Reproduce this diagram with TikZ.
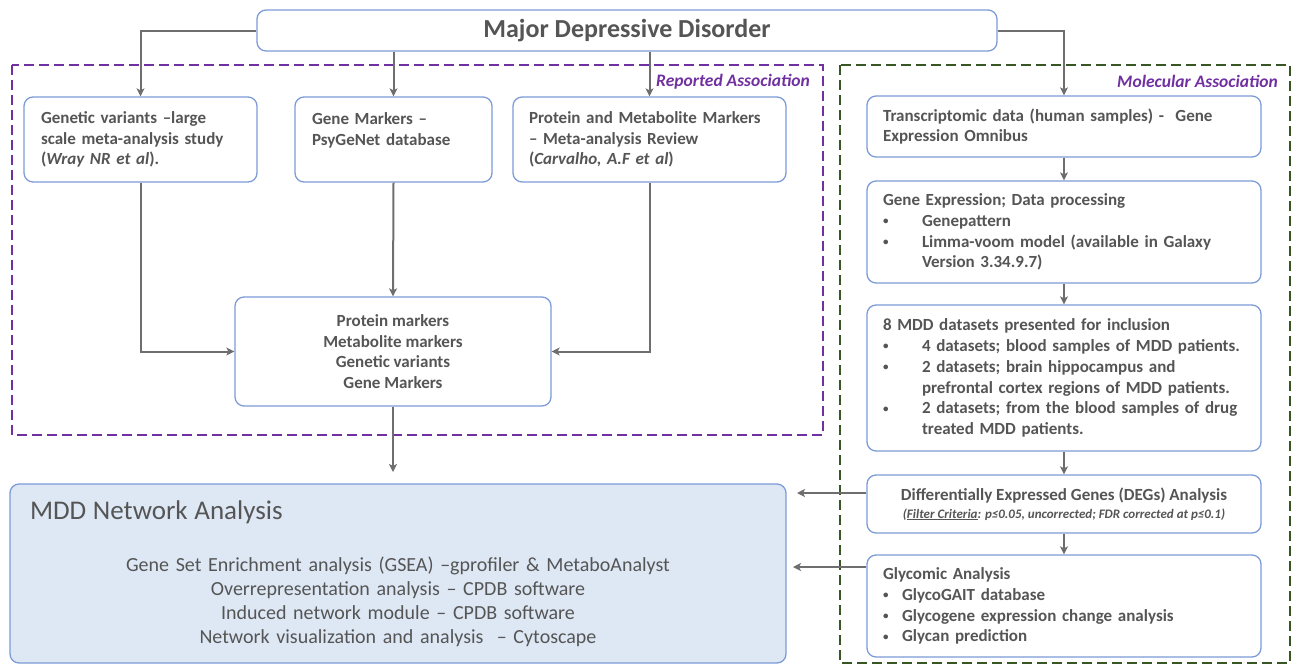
\documentclass[tikz,border=0pt]{standalone}
\usepackage{fontspec}
\setmainfont{Carlito}
\usetikzlibrary{arrows.meta}
\definecolor{txtgray}{RGB}{85,85,85}
\definecolor{boxblue}{RGB}{125,155,215}
\definecolor{arrgray}{RGB}{110,110,110}
\definecolor{repviolet}{RGB}{112,48,160}
\definecolor{molgreen}{RGB}{55,86,35}
\definecolor{netfill}{RGB}{222,232,245}
\tikzset{
  box/.style={draw=boxblue, line width=1.3pt, rounded corners=9pt, fill=white, text=txtgray,
    align=left, inner ysep=2pt, font=\bfseries\fontsize{17}{20.8}\selectfont},
  arr/.style={draw=arrgray, line width=2pt, -{Stealth[length=8pt,width=8pt,inset=2pt]}},
  frame/.style={line width=2.5pt, dash pattern=on 10pt off 5pt},
  tag/.style={font=\bfseries\itshape\fontsize{17.5}{20}\selectfont, text=repviolet, anchor=east, inner sep=0pt},
}
\newcommand{\bul}[1]{\makebox[#1][l]{\raisebox{1.5pt}{\fontsize{11}{11}\selectfont\textbullet}}}

\begin{document}
\begin{tikzpicture}[x=1pt, y=-1pt]
\useasboundingbox (0,0) rectangle (1296,667);

\draw[frame, repviolet] (12,65) rectangle (823,435);
\draw[frame, molgreen] (840,65) rectangle (1290,663);
\node[tag] (RA) at (810,82) {Reported Association};
\node[tag] (MA) at (1278,81) {Molecular Association};

\node[box, align=center, minimum width=740pt, minimum height=41pt,
  font=\bfseries\fontsize{26}{30}\selectfont] (MDD) at (627,30.5) {Major Depressive Disorder};

\node[box, text width=199pt, inner xsep=17pt, minimum height=85pt] (GV) at (140.5,139.5)
  {Genetic variants –large\\scale meta-analysis study\\(\textit{Wray NR et al}).};
\node[box, text width=163pt, inner xsep=17pt, minimum height=85pt] (GM) at (393.5,139.5)
  {Gene Markers –\\ PsyGeNet database\\\mbox{}};
\node[box, text width=241pt, inner xsep=16pt, minimum height=85pt] (PM) at (649.5,139.5)
  {Protein and Metabolite Markers\\– Meta-analysis Review\\(\textit{Carvalho, A.F et al})};
\node[box, align=center, minimum width=316pt, minimum height=109pt] (ALL) at (393,351.5)
  {Protein markers\\Metabolite markers\\Genetic variants\\Gene Markers};

\node[box, text width=362pt, inner xsep=16pt, minimum height=61pt] (TD) at (1064,126.5)
  {Transcriptomic data (human samples) -\ \ Gene\\Expression Omnibus};
\node[box, text width=362pt, inner xsep=16pt, minimum height=102pt] (GE) at (1064,232)
  {Gene Expression; Data processing\\
   \bul{39pt}Genepattern\\
   \bul{39pt}Limma-voom model (available in Galaxy\\
   \hspace*{39pt}Version 3.34.9.7)};
\node[box, text width=362pt, inner xsep=16pt, minimum height=146pt] (DS) at (1064,378)
  {8 MDD datasets presented for inclusion\\
   \bul{39pt}4 datasets; blood samples of MDD patients.\\
   \bul{39pt}2 datasets; brain hippocampus and\\
   \hspace*{39pt}prefrontal cortex regions of MDD patients.\\
   \bul{39pt}2 datasets; from the blood samples of drug\\
   \hspace*{39pt}treated MDD patients.};
\node[box, align=center, minimum width=394pt, minimum height=58pt] (DEG) at (1064,504)
  {Differentially Expressed Genes (DEGs) Analysis\\[-3pt]
   {\fontsize{13}{15}\selectfont\itshape (\underline{Filter Criteria}: p≤0.05, uncorrected; FDR corrected at p≤0.1)}};
\node[box, text width=362pt, inner xsep=16pt, minimum height=102pt] (GA) at (1064,606)
  {Glycomic Analysis\\
   \bul{19pt}GlycoGAIT database\\
   \bul{19pt}Glycogene expression change analysis\\
   \bul{19pt}Glycan prediction};

\node[box, fill=netfill, text width=736pt, inner xsep=20pt, minimum height=179pt, align=center,
  font=\fontsize{20}{24}\selectfont] (NA) at (398,573.5)
  {\makebox[\linewidth][l]{\fontsize{27}{30}\selectfont MDD Network Analysis}\\[28pt]
   Gene Set Enrichment analysis (GSEA) –gprofiler \& MetaboAnalyst\\
   Overrepresentation analysis – CPDB software\\
   Induced network module – CPDB software\\
   Network visualization and analysis\ \ – Cytoscape};

\coordinate (NAin) at (393,472);
\coordinate (DEGin) at (797,493);
\coordinate (GAin) at (793,567);

\draw[arr] (MDD.west) -| (GV.north);
\draw[arr] (MDD.south -| GM.north) -- (GM.north);
\draw[arr] (MDD.south -| PM.north) -- (PM.north);
\draw[arr] (MDD.east) -| (TD.north);
\draw[arr] (GV.south) |- (ALL.west);
\draw[arr] (GM.south) -- (ALL.north);
\draw[arr] (PM.south) |- (ALL.east);
\draw[arr] (ALL.south) -- (NAin);
\path[arr]
(TD)  edge (GE)
(GE)  edge (DS)
(DS)  edge (DEG)
(DEG) edge (GA);
\draw[arr] (DEG.west |- DEGin) -- (DEGin);
\draw[arr] (GA.west |- GAin) -- (GAin);
\end{tikzpicture}
\end{document}
